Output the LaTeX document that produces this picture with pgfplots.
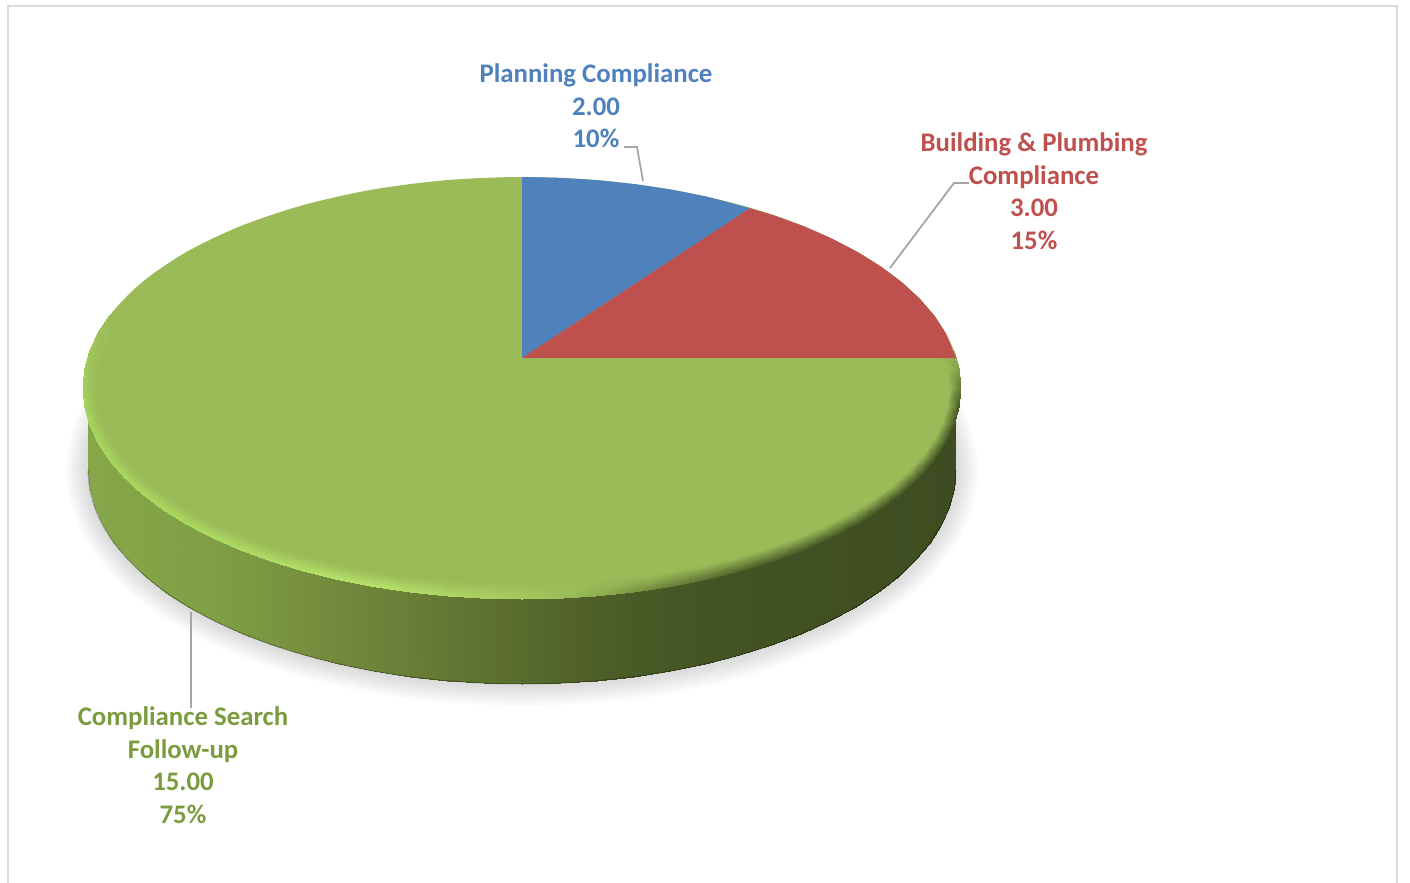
\documentclass[border=0pt]{standalone}
\usepackage{pgfplots}
\pgfplotsset{compat=1.18}
\usepackage{pgfplotstable}
\usepackage{fontspec}
\setmainfont{Carlito}

\definecolor{pieblue}{HTML}{4F81BD}
\definecolor{piered}{HTML}{BE504D}
\definecolor{piegreen}{HTML}{9BBB59}
\definecolor{labgreen}{HTML}{7B9B3F}
\definecolor{leader}{HTML}{A6A6A6}
\definecolor{frame}{HTML}{D9D9D9}

% side wall of the disc: upper row, then lower row (pixel coordinates)
\pgfplotstableread{
x y
956 380
954.3 398.7
949.4 417.2
941.2 435.4
929.8 453.2
915.3 470.4
897.8 487
877.5 502.8
854.4 517.6
828.9 531.3
801 543.9
770.9 555.3
739 565.3
705.4 573.9
670.4 581.1
634.3 586.7
597.3 590.7
559.8 593.2
522 594
484.2 593.2
446.7 590.7
409.7 586.7
373.6 581.1
338.6 573.9
305 565.3
273.1 555.3
243 543.9
215.1 531.3
189.6 517.6
166.5 502.8
146.2 487
128.7 470.4
114.2 453.2
102.8 435.4
94.6 417.2
89.7 398.7
88 380
956 470
954.3 488.7
949.4 507.2
941.2 525.4
929.8 543.2
915.3 560.4
897.8 577
877.5 592.8
854.4 607.6
828.9 621.3
801 633.9
770.9 645.3
739 655.3
705.4 663.9
670.4 671.1
634.3 676.7
597.3 680.7
559.8 683.2
522 684
484.2 683.2
446.7 680.7
409.7 676.7
373.6 671.1
338.6 663.9
305 655.3
273.1 645.3
243 633.9
215.1 621.3
189.6 607.6
166.5 592.8
146.2 577
128.7 560.4
114.2 543.2
102.8 525.4
94.6 507.2
89.7 488.7
88 470
}\walltable

% outline the shadow follows
\pgfplotstableread{
x y
956 470
941.2 525.4
897.8 577
828.9 621.3
739 655.3
634.3 676.7
522 684
409.7 676.7
305 655.3
215.1 621.3
146.2 577
102.8 525.4
88 470
102.8 414.6
146.2 363
215.1 318.7
305 284.7
409.7 263.3
522 256
634.3 263.3
739 284.7
828.9 318.7
897.8 363
941.2 414.6
}\shadowtable

% bevel on the rim: outer row, then inner row
\pgfplotstableread{
x y c
954.3 351.4 rgb255=155,187,89
959.3 369.6 rgb255=130,158,72
961 388 rgb255=100,122,54
959.3 406.4 rgb255=72,88,38
954.3 424.6 rgb255=68,84,36
946 442.6 rgb255=66,82,35
934.5 460.2 rgb255=66,82,35
919.9 477.2 rgb255=66,82,35
902.2 493.5 rgb255=66,82,35
881.6 509 rgb255=66,82,35
858.3 523.6 rgb255=68,84,36
832.4 537.2 rgb255=70,86,37
804.2 549.6 rgb255=72,90,38
773.8 560.8 rgb255=76,94,40
741.5 570.7 rgb255=80,100,42
707.5 579.2 rgb255=90,110,48
672.1 586.3 rgb255=104,126,56
635.6 591.8 rgb255=122,148,68
598.2 595.8 rgb255=142,172,80
560.3 598.2 rgb255=156,190,90
522 599 rgb255=164,200,94
483.7 598.2 rgb255=170,208,98
445.8 595.8 rgb255=174,214,100
408.4 591.8 rgb255=178,222,104
371.9 586.3 rgb255=180,226,106
336.5 579.2 rgb255=180,226,106
302.5 570.7 rgb255=178,224,104
270.2 560.8 rgb255=176,222,102
239.8 549.6 rgb255=174,220,100
211.6 537.2 rgb255=172,220,98
185.7 523.6 rgb255=170,218,96
162.4 509 rgb255=170,218,96
141.8 493.5 rgb255=170,218,96
124.1 477.2 rgb255=168,216,94
109.5 460.2 rgb255=168,216,94
98 442.6 rgb255=168,216,94
89.7 424.6 rgb255=166,214,92
84.7 406.4 rgb255=166,212,92
83 388 rgb255=164,208,92
84.7 369.6 rgb255=162,204,92
89.7 351.4 rgb255=160,198,90
98 333.4 rgb255=157,192,90
109.5 315.8 rgb255=155,187,89
942.5 354 rgb255=155,187,89
947.4 370.9 rgb255=155,187,89
949 388 rgb255=155,187,89
947.4 405.1 rgb255=155,187,89
942.5 422 rgb255=155,187,89
934.4 438.7 rgb255=155,187,89
923.3 455 rgb255=155,187,89
909 470.8 rgb255=155,187,89
891.8 486 rgb255=155,187,89
871.8 500.4 rgb255=155,187,89
849.1 514 rgb255=155,187,89
823.9 526.6 rgb255=155,187,89
796.5 538.1 rgb255=155,187,89
766.9 548.6 rgb255=155,187,89
735.5 557.7 rgb255=155,187,89
702.5 565.6 rgb255=155,187,89
668 572.2 rgb255=155,187,89
632.5 577.3 rgb255=155,187,89
596.1 581 rgb255=155,187,89
559.2 583.3 rgb255=155,187,89
522 584 rgb255=155,187,89
484.8 583.3 rgb255=155,187,89
447.9 581 rgb255=155,187,89
411.5 577.3 rgb255=155,187,89
376 572.2 rgb255=155,187,89
341.5 565.6 rgb255=155,187,89
308.5 557.7 rgb255=155,187,89
277.1 548.6 rgb255=155,187,89
247.5 538.1 rgb255=155,187,89
220.1 526.6 rgb255=155,187,89
194.9 514 rgb255=155,187,89
172.2 500.4 rgb255=155,187,89
152.2 486 rgb255=155,187,89
135 470.8 rgb255=155,187,89
120.7 455 rgb255=155,187,89
109.6 438.7 rgb255=155,187,89
101.5 422 rgb255=155,187,89
96.6 405.1 rgb255=155,187,89
95 388 rgb255=155,187,89
96.6 370.9 rgb255=155,187,89
101.5 354 rgb255=155,187,89
109.6 337.3 rgb255=155,187,89
120.7 321 rgb255=155,187,89
}\rimtable

\begin{document}
\begin{tikzpicture}
\useasboundingbox (0,0) rectangle (705pt,441.5pt);
\begin{axis}[
    at={(0,0)},
    anchor=south west,
    scale only axis,
    width=705pt,
    height=441.5pt,
    xmin=0, xmax=1410,
    ymin=0, ymax=883,
    y dir=reverse,
    hide axis,
    colormap={wallshade}{
        rgb255(88pt)=(134,167,73)
        rgb255(200pt)=(129,160,70)
        rgb255(260pt)=(124,152,66)
        rgb255(340pt)=(114,137,60)
        rgb255(420pt)=(104,124,54)
        rgb255(500pt)=(92,110,47)
        rgb255(600pt)=(78,94,40)
        rgb255(700pt)=(68,84,36)
        rgb255(956pt)=(62,76,33)
    },
    point meta min=88,
    point meta max=956,
]
% frame of the chart
\addplot[frame, line width=1pt] coordinates {(8,883) (8,6) (1397,6) (1397,883)};

% soft shadow under the disc
\addplot[black, opacity=0.02, line width=22pt, smooth cycle] table[x=x, y=y] {\shadowtable};
\addplot[black, opacity=0.02, line width=19pt, smooth cycle] table[x=x, y=y] {\shadowtable};
\addplot[black, opacity=0.02, line width=16pt, smooth cycle] table[x=x, y=y] {\shadowtable};
\addplot[black, opacity=0.02, line width=13pt, smooth cycle] table[x=x, y=y] {\shadowtable};
\addplot[black, opacity=0.02, line width=10pt, smooth cycle] table[x=x, y=y] {\shadowtable};
\addplot[black, opacity=0.02, line width=7pt, smooth cycle] table[x=x, y=y] {\shadowtable};
\addplot[black, opacity=0.02, line width=4pt, smooth cycle] table[x=x, y=y] {\shadowtable};

% side wall
\addplot[surf, shader=interp, mesh/rows=2, point meta=\thisrow{x}] table[x=x, y=y] {\walltable};
\addplot[black, opacity=0.3, line width=0.5pt, smooth] table[x=x, y=y, skip coords between index={0}{37}] {\walltable};

% top face, green slice: whole ellipse
\addplot[fill=piegreen, draw=none, smooth cycle] coordinates {
(961,388) (954.3,424.6) (934.5,460.2) (902.2,493.5) (858.3,523.6) (804.2,549.6)
(741.5,570.7) (672.1,586.3) (598.2,595.8) (522,599) (445.8,595.8) (371.9,586.3)
(302.5,570.7) (239.8,549.6) (185.7,523.6) (141.8,493.5) (109.5,460.2) (89.7,424.6)
(83,388) (89.7,351.4) (109.5,315.8) (141.8,282.5) (185.7,252.4) (239.8,226.4)
(302.5,205.3) (371.9,189.7) (445.8,180.2) (522,177) (598.2,180.2) (672.1,189.7)
(741.5,205.3) (804.2,226.4) (858.3,252.4) (902.2,282.5) (934.5,315.8) (954.3,351.4)
};

% bevel
\addplot[surf, shader=interp, mesh/rows=2, mesh/color input=explicit, point meta=explicit symbolic]
    table[x=x, y=y, meta=c] {\rimtable};

% blue slice, 10%
\addplot[fill=pieblue, draw=none] coordinates {
(522,358) (522,177) (560.3,177.8) (598.2,180.2) (635.6,184.2) (672.1,189.7)
(707.5,196.8) (750,208.2)
} -- cycle;
% red slice, 15%
\addplot[fill=piered, draw=none] coordinates {
(522,358) (750,208.2) (773.8,215.2) (804.2,226.4) (832.4,238.8) (858.3,252.4)
(881.6,267) (902.2,282.5) (919.9,298.8) (934.5,315.8) (946,333.4) (956,358)
} -- cycle;

% leader lines
\addplot[leader, line width=0.9pt] coordinates {(624,147) (637,147) (643,181)};
\addplot[leader, line width=0.9pt] coordinates {(969,183) (954,183) (890,268)};
\addplot[leader, line width=1.3pt] coordinates {(191,612) (191,708)};

% data labels
\node[align=center, text=pieblue, font=\fontsize{13.4}{16.25}\selectfont\bfseries] at (axis cs:596,106)
    {Planning Compliance\\2.00\\10\%};
\node[align=center, text=piered, font=\fontsize{13.4}{16.25}\selectfont\bfseries] at (axis cs:1034,191)
    {Building \& Plumbing\\Compliance\\3.00\\15\%};
\node[align=center, text=labgreen, font=\fontsize{13.4}{16.25}\selectfont\bfseries] at (axis cs:183,765)
    {Compliance Search\\Follow-up\\15.00\\75\%};
\end{axis}
\end{tikzpicture}
\end{document}
